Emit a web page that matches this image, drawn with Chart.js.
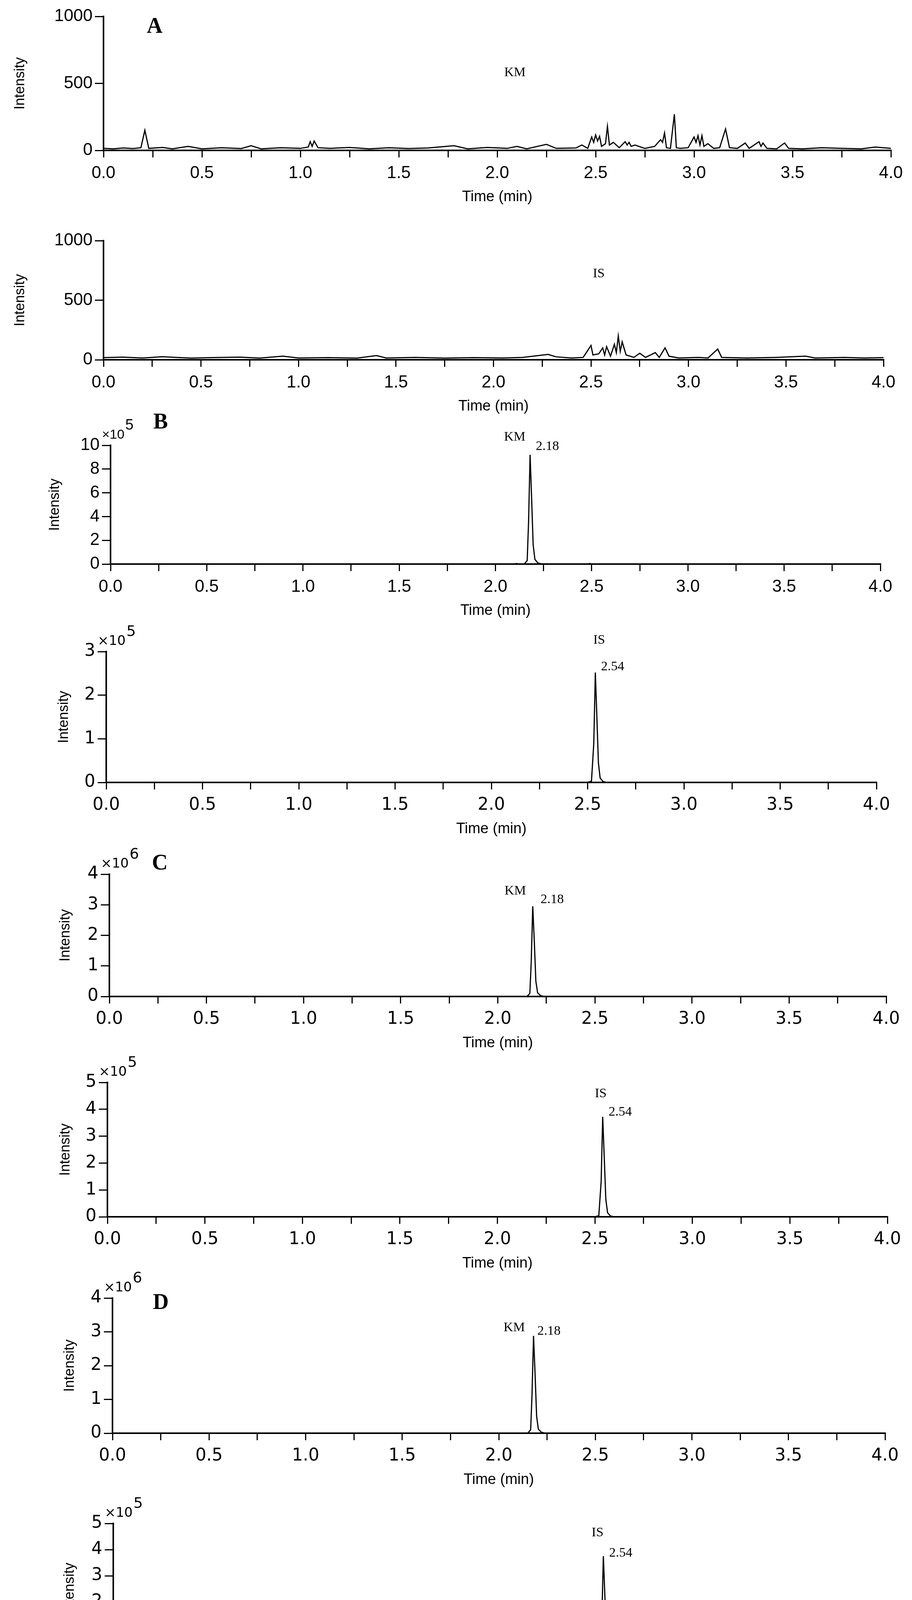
<!DOCTYPE html>
<html>
<head>
<meta charset="utf-8">
<script src="https://cdn.jsdelivr.net/npm/chart.js@4/dist/chart.umd.min.js"></script>
<style>
  body { margin: 0; background: #fff; }
  #page { position: relative; width: 2335px; height: 4391px; background: #fff; }
  .panel { position: absolute; left: 0; width: 2335px; }
</style>
</head>
<body>
<div id="page"></div>
<script>
// blank sample, KM channel (time min, intensity)
const blankKM = [[0,15],[0.05,12],[0.1,18],[0.15,14],[0.19,20],[0.21,150],[0.23,15],[0.3,22],[0.35,12],[0.43,30],[0.5,12],[0.6,20],[0.7,14],[0.75,35],[0.8,12],[0.9,20],[1.0,15],[1.04,25],[1.05,65],[1.06,30],[1.07,70],[1.09,20],[1.15,15],[1.25,22],[1.35,12],[1.45,20],[1.55,14],[1.65,18],[1.78,35],[1.85,12],[1.95,22],[2.05,15],[2.1,30],[2.15,12],[2.25,45],[2.3,15],[2.4,18],[2.43,40],[2.46,15],[2.48,100],[2.49,60],[2.5,115],[2.51,70],[2.52,105],[2.53,30],[2.55,50],[2.56,180],[2.57,40],[2.59,60],[2.62,20],[2.65,65],[2.66,40],[2.67,60],[2.68,30],[2.7,40],[2.75,15],[2.8,30],[2.83,80],[2.84,60],[2.85,130],[2.86,20],[2.88,15],[2.9,270],[2.91,20],[2.93,15],[2.97,20],[3.0,100],[3.01,60],[3.02,110],[3.03,40],[3.04,110],[3.05,30],[3.07,50],[3.1,15],[3.13,20],[3.16,160],[3.18,20],[3.22,15],[3.26,55],[3.28,15],[3.33,65],[3.34,30],[3.35,55],[3.37,15],[3.42,12],[3.46,55],[3.48,15],[3.55,12],[3.65,20],[3.75,15],[3.85,12],[3.92,25],[4.0,15]];
// blank sample, IS channel
const blankIS = [[0,18],[0.1,22],[0.2,15],[0.3,25],[0.45,14],[0.55,18],[0.7,22],[0.8,14],[0.92,30],[1.0,15],[1.15,18],[1.3,14],[1.4,35],[1.45,15],[1.6,20],[1.75,14],[1.9,18],[2.05,15],[2.15,20],[2.28,45],[2.32,25],[2.4,15],[2.46,20],[2.5,120],[2.51,40],[2.54,50],[2.56,100],[2.57,40],[2.58,110],[2.6,30],[2.62,130],[2.63,60],[2.64,200],[2.65,70],[2.66,150],[2.68,40],[2.72,20],[2.75,55],[2.78,20],[2.83,60],[2.85,20],[2.88,100],[2.9,30],[2.95,15],[3.05,20],[3.1,15],[3.15,90],[3.17,20],[3.3,15],[3.45,20],[3.6,30],[3.65,15],[3.8,20],[3.9,15],[4.0,18]];
// standard (B) and samples (C, D); intensities in units of the axis multiplier
const stdKM = [[0,0],[2.1,0],[2.11,0.05],[2.12,0],[2.15,0],[2.165,0.3],[2.172,3.5],[2.18,9.2],[2.188,5.5],[2.196,1.6],[2.205,0.4],[2.22,0.1],[2.24,0],[2.48,0],[2.49,0.05],[2.5,0],[4.0,0]];
const stdIS = [[0,0],[2.5,0],[2.52,0.03],[2.532,0.9],[2.54,2.52],[2.548,1.5],[2.556,0.45],[2.565,0.1],[2.58,0.02],[2.6,0],[4.0,0]];
const sampleCKM = [[0,0],[2.15,0],[2.165,0.1],[2.172,1.1],[2.18,2.95],[2.188,1.8],[2.196,0.5],[2.205,0.12],[2.22,0.03],[2.24,0],[4.0,0]];
const sampleCIS = [[0,0],[2.5,0],[2.52,0.04],[2.532,1.3],[2.54,3.72],[2.548,2.2],[2.556,0.65],[2.565,0.15],[2.58,0.03],[2.6,0],[4.0,0]];
const sampleDKM = [[0,0],[2.15,0],[2.165,0.1],[2.172,1.1],[2.18,2.88],[2.188,1.75],[2.196,0.5],[2.205,0.12],[2.22,0.03],[2.24,0],[4.0,0]];
const sampleDIS = [[0,0],[2.5,0],[2.52,0.04],[2.532,1.3],[2.54,3.75],[2.548,2.2],[2.556,0.65],[2.565,0.15],[2.58,0.03],[2.6,0],[4.0,0]];

const xTickLabels = ['0.0','0.5','1.0','1.5','2.0','2.5','3.0','3.5','4.0'];

const SANS = '"Liberation Sans", Arial, sans-serif';
const WIDE = '"DejaVu Sans", Verdana, sans-serif';
const SERIF = '"Liberation Serif", "Times New Roman", serif';

const panels = [
  { data: blankKM, yMax: 1000, yStep: 500, exp: null, letter: 'A', letterAt: [0.26, 921], tickFont: SANS,
    notes: [['KM', 2.09, 580]], top: 42, base: 385, left: 265, right: 2281, titleX: 52 },
  { data: blankIS, yMax: 1000, yStep: 500, exp: null, letter: null, tickFont: SANS,
    notes: [['IS', 2.54, 720]], top: 616, base: 921, left: 265, right: 2262, titleX: 52 },
  { data: stdKM, yMax: 10, yStep: 2, exp: '5', letter: 'B', letterAt: [0.26, 11.9], tickFont: SANS,
    notes: [['KM', 2.10, 10.7], ['2.18', 2.27, 9.9]], top: 1140, base: 1444, left: 283, right: 2254, titleX: 141 },
  { data: stdIS, yMax: 3, yStep: 1, exp: '5', letter: null, tickFont: WIDE,
    notes: [['IS', 2.56, 3.26], ['2.54', 2.63, 2.65]], top: 1668, base: 2003, left: 272, right: 2244, titleX: 164 },
  { data: sampleCKM, yMax: 4, yStep: 1, exp: '6', letter: 'C', letterAt: [0.26, 4.34], tickFont: WIDE,
    notes: [['KM', 2.09, 3.45], ['2.18', 2.28, 3.17]], top: 2238, base: 2551, left: 280, right: 2269, titleX: 168 },
  { data: sampleCIS, yMax: 5, yStep: 1, exp: '5', letter: null, tickFont: WIDE,
    notes: [['IS', 2.53, 4.58], ['2.54', 2.63, 3.89]], top: 2771, base: 3115, left: 275, right: 2272, titleX: 168 },
  { data: sampleDKM, yMax: 4, yStep: 1, exp: '6', letter: 'D', letterAt: [0.25, 3.84], tickFont: WIDE,
    notes: [['KM', 2.08, 3.12], ['2.18', 2.26, 3.02]], top: 3323, base: 3669, left: 288, right: 2266, titleX: 179 },
  { data: sampleDIS, yMax: 5, yStep: 1, exp: '5', letter: null, tickFont: WIDE,
    notes: [['IS', 2.51, 4.64], ['2.54', 2.63, 3.86]], top: 3900, base: 4235, left: 290, right: 2266, titleX: 179 }
];

const PAD_TOP = 110;
const X_AXIS_H = 150;

// draws peak labels, panel letter and the x10^n multiplier
const textPlugin = {
  id: 'panelText',
  afterDraw(chart) {
    const p = chart.options.plugins.panelText;
    const ctx = chart.ctx;
    const xs = chart.scales.x, ys = chart.scales.y;
    ctx.save();
    ctx.fillStyle = '#000';
    ctx.textAlign = 'center';
    ctx.textBaseline = 'middle';
    ctx.font = '34px ' + SERIF;
    p.notes.forEach(([txt, x, y]) => {
      ctx.fillText(txt, xs.getPixelForValue(x), ys.getPixelForValue(y));
    });
    if (p.letter) {
      ctx.font = 'bold 56px ' + SERIF;
      ctx.fillText(p.letter, xs.getPixelForValue(p.letterAt[0]), ys.getPixelForValue(p.letterAt[1]));
    }
    if (p.exp) {
      const x0 = chart.chartArea.left - 22;
      const y0 = chart.chartArea.top - 26;
      ctx.textAlign = 'left';
      ctx.font = '34px ' + p.tickFont;
      ctx.fillText('\u00d710', x0, y0);
      const w = ctx.measureText('\u00d710').width;
      ctx.font = '38px ' + p.tickFont;
      ctx.fillText(p.exp, x0 + w + 2, y0 - 24);
    }
    ctx.restore();
  }
};

const page = document.getElementById('page');

panels.forEach(p => {
  const div = document.createElement('div');
  div.className = 'panel';
  div.style.top = (p.top - PAD_TOP) + 'px';
  div.style.height = (p.base - p.top + PAD_TOP + X_AXIS_H) + 'px';
  const canvas = document.createElement('canvas');
  div.appendChild(canvas);
  page.appendChild(div);

  new Chart(canvas, {
    type: 'line',
    data: {
      datasets: [{
        data: p.data.map(d => ({ x: d[0], y: d[1] })),
        borderColor: '#000',
        borderWidth: 3,
        pointRadius: 0,
        tension: 0,
        fill: false
      }]
    },
    options: {
      animation: false,
      responsive: true,
      maintainAspectRatio: false,
      devicePixelRatio: 1,
      layout: { padding: { top: PAD_TOP, right: 2335 - p.right, left: 0, bottom: 0 } },
      plugins: {
        legend: { display: false },
        tooltip: { enabled: false },
        panelText: p
      },
      scales: {
        x: {
          type: 'linear',
          min: 0,
          max: 4,
          afterFit: s => { s.height = X_AXIS_H; },
          border: { display: true, color: '#000', width: 4 },
          grid: { drawOnChartArea: false, drawTicks: true, tickLength: 18, color: '#000', lineWidth: 3 },
          ticks: {
            stepSize: 0.25,
            autoSkip: false,
            maxRotation: 0,
            padding: 14,
            color: '#000',
            font: { family: p.tickFont, size: 44 },
            callback: v => {
              const i = Math.round(v * 2);
              return Math.abs(v * 2 - i) < 1e-6 ? xTickLabels[i] : '';
            }
          },
          title: {
            display: true,
            text: 'Time (min)',
            color: '#000',
            font: { family: SANS, size: 38 },
            padding: { top: 0, bottom: 8 }
          }
        },
        y: {
          type: 'linear',
          min: 0,
          max: p.yMax,
          afterFit: s => { s.width = p.left; },
          border: { display: true, color: '#000', width: 4 },
          grid: { drawOnChartArea: false, drawTicks: true, tickLength: 22, color: '#000', lineWidth: 3 },
          ticks: {
            stepSize: p.yStep,
            padding: 6,
            color: '#000',
            font: { family: p.tickFont, size: 44 },
            callback: v => String(v)
          },
          title: {
            display: true,
            text: 'Intensity',
            color: '#000',
            font: { family: SANS, size: 36 },
            padding: { top: Math.max(0, p.titleX - 22), bottom: 0 }
          }
        }
      }
    },
    plugins: [textPlugin]
  });
});
</script>
</body>
</html>
